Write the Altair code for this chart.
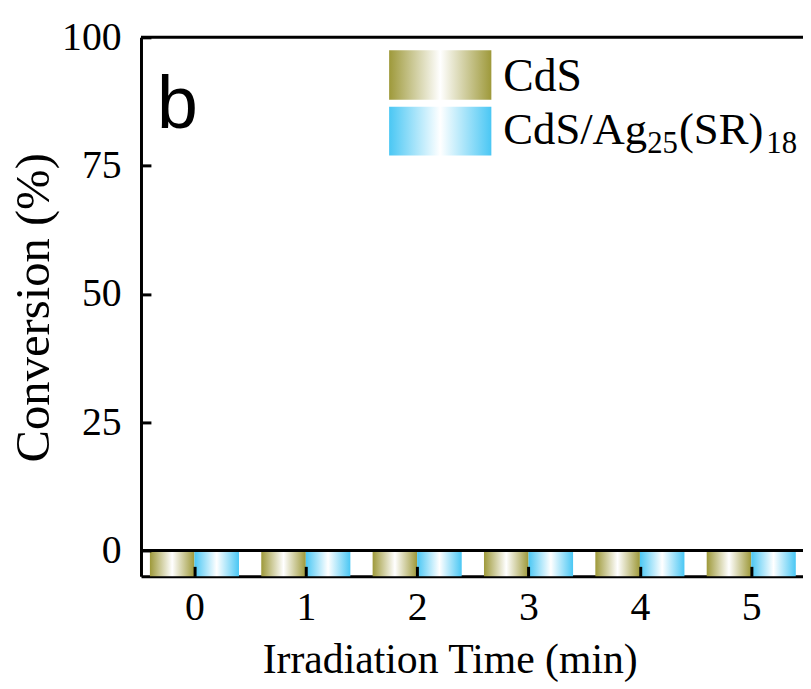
import altair as alt
import pandas as pd

# ---- data ----
times = [0, 1, 2, 3, 4, 5]
cds_conv = [0, 0, 0, 0, 0, 0]
cds_ag_conv = [0, 0, 0, 0, 0, 0]
y_ticks = [0, 25, 50, 75, 100]
frame_lines = [0, 100]

OLIVE = "#9E993A"
CYAN = "#4AC7F4"
BAR_HALF = 0.4


def grad(c):
    return {
        "gradient": "linear",
        "x1": 0, "x2": 1, "y1": 0, "y2": 0,
        "stops": [
            {"offset": 0, "color": c},
            {"offset": 0.5, "color": "#ffffff"},
            {"offset": 1, "color": c},
        ],
    }


df = pd.DataFrame({"time": times, "CdS": cds_conv, "CdS_Ag": cds_ag_conv})
frame_df = pd.DataFrame({"v": frame_lines})
one = pd.DataFrame({"k": [0]})

W, H = 667, 543
xscale = alt.Scale(domain=[-0.48, -0.48 + W / 112.2], nice=False, zero=False)
yscale = alt.Scale(domain=[-5, 100], nice=False, zero=False)

x_main = alt.Axis(values=times, ticks=False, tickSize=0, labelPadding=12,
                  labelFontSize=40, labelFlush=False, titleFontSize=42,
                  titleX=311, titleY=97, titleBaseline="alphabetic",
                  titleAlign="center", format="d", grid=False)
y_main = alt.Axis(values=y_ticks, ticks=False, tickSize=0, labelPadding=20,
                  labelFontSize=40, titleFontSize=49, titleX=-93, titleY=272,
                  titleAngle=-90, titleBaseline="alphabetic", titleAlign="center",
                  grid=False)

cds_bars = alt.Chart(df).transform_calculate(
    xs=f"datum.time - {BAR_HALF}"
).mark_bar(color=grad(OLIVE)).encode(
    x=alt.X("xs:Q", scale=xscale, axis=x_main, title="Irradiation Time (min)"),
    x2="time:Q",
    y=alt.Y("CdS:Q", scale=yscale, axis=y_main, title="Conversion (%)"),
    y2=alt.datum(-5),
)

ag_bars = alt.Chart(df).transform_calculate(
    xe=f"datum.time + {BAR_HALF}"
).mark_bar(color=grad(CYAN)).encode(
    x=alt.X("time:Q", scale=xscale, axis=None),
    x2="xe:Q",
    y=alt.Y("CdS_Ag:Q", scale=yscale, axis=None),
    y2=alt.datum(-5),
)

# inward ticks
tick_layer = alt.Chart(df).mark_point(opacity=0).encode(
    x=alt.X("time:Q", scale=xscale, title=None,
            axis=alt.Axis(orient="bottom", offset=-10, tickSize=10, tickWidth=3,
                          labels=False, domain=False, values=times, grid=False,
                          zindex=2)),
    y=alt.Y("CdS:Q", scale=yscale, title=None,
            axis=alt.Axis(orient="left", offset=-10, tickSize=10, tickWidth=3,
                          labels=False, domain=False, values=y_ticks, grid=False,
                          zindex=2)),
)

frame = alt.Chart(frame_df).mark_rule(color="black", strokeWidth=3).encode(
    y=alt.Y("v:Q", scale=yscale, axis=None)
)

# legend (manual, gradient swatches)
sw1 = alt.Chart(one).mark_rect(color=grad(OLIVE)).encode(
    x=alt.value(250), x2=alt.value(353), y=alt.value(13), y2=alt.value(63))
sw2 = alt.Chart(one).mark_rect(color=grad(CYAN)).encode(
    x=alt.value(250), x2=alt.value(353), y=alt.value(70), y2=alt.value(119))

serif = "Liberation Serif"


def txt(s, x, y, size):
    return alt.Chart(one).mark_text(text=s, font=serif, fontSize=size,
                                    align="left", baseline="alphabetic",
                                    color="black").encode(
        x=alt.value(x), y=alt.value(y))


leg = [
    txt("CdS", 365, 54, 46),
    txt("CdS/Ag", 365, 107, 45),
    txt("25", 510, 117, 31),
    txt("(SR)", 542, 107, 45),
    txt("18", 630, 117, 31),
]

panel = alt.Chart(one).mark_text(text="b", font="Liberation Sans", fontSize=74,
                                 align="left", baseline="alphabetic",
                                 color="black").encode(
    x=alt.value(16), y=alt.value(91))

chart = alt.layer(cds_bars, ag_bars, tick_layer, frame, sw1, sw2, *leg, panel).resolve_axis(
    x="independent", y="independent"
).properties(
    width=W, height=H,
    autosize=alt.AutoSizeParams(type="none"),
    padding={"left": 134, "top": 27, "right": 0, "bottom": 110},
    background="white",
).configure_view(strokeWidth=0).configure_axis(
    domainColor="black", domainWidth=3, tickColor="black", grid=False,
    labelFont=serif, titleFont=serif, labelColor="black", titleColor="black",
    titleFontWeight="normal",
)

chart.save("out.html", embed_options={"renderer": "svg", "actions": False})
